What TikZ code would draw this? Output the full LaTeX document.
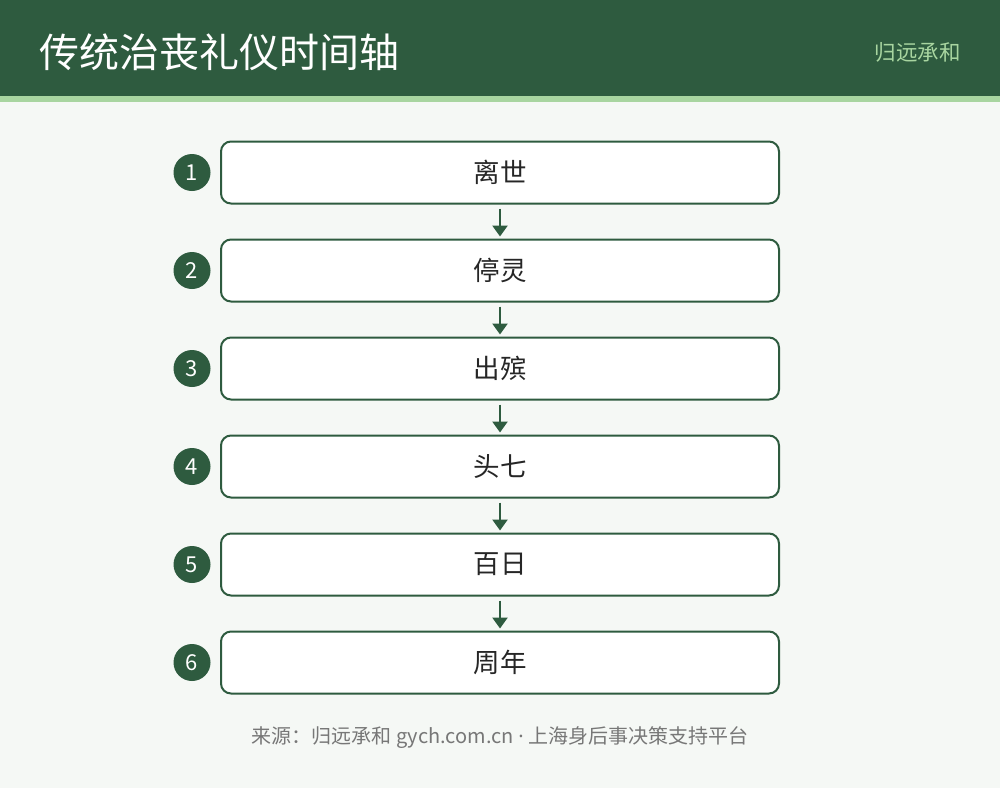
\documentclass[tikz,border=0pt]{standalone}
\usepackage{fontspec}
\setmainfont{Noto Sans CJK SC}
\newfontfamily\latinfont{Noto Sans}
\usetikzlibrary{arrows.meta}
\definecolor{darkgreen}{HTML}{2E5B3F}
\definecolor{lightgreen}{HTML}{A8D5A0}
\definecolor{bgcol}{HTML}{F5F8F5}
\definecolor{footgray}{HTML}{777777}
\tikzset{
  stepbox/.style={draw=darkgreen, line width=2pt, fill=white, rounded corners=10pt, minimum width=558pt, minimum height=62pt, inner sep=0pt, font=\fontsize{26.5}{30}\selectfont, text=black!85},
  numdot/.style={circle, fill=darkgreen, minimum size=37pt, inner sep=0pt, text=white, font=\fontsize{22}{26}\selectfont},
  flow/.style={draw=darkgreen, line width=2.5pt, -{Triangle[length=11pt,width=15pt]}, shorten >=2pt, shorten <=4pt}
}
\begin{document}
\begin{tikzpicture}[x=1pt,y=-1pt]
\useasboundingbox (0,0) rectangle (1000,788);
\fill[bgcol] (0,0) rectangle (1000,788);
\fill[darkgreen] (0,0) rectangle (1000,96);
\fill[lightgreen] (0,96) rectangle (1000,102);
\node[anchor=west, text=white, font=\fontsize{40}{48}\selectfont, inner sep=0pt] (title) at (39,52) {传统治丧礼仪时间轴};
\node[anchor=east, text=lightgreen, font=\fontsize{21.5}{26}\selectfont, inner sep=0pt] (brand) at (961,52) {归远承和};
\foreach \i/\t in {1/离世,2/停灵,3/出殡,4/头七,5/百日,6/周年}{
  \node[stepbox] (b\i) at (500,{172.5+98*(\i-1)}) {\t};
  \node[numdot] (n\i) at (192,{172.5+98*(\i-1)}) {\i};
}
\foreach \i [evaluate=\i as \j using int(\i+1)] in {1,...,5}{
  \draw[flow] (b\i.south) -- (b\j.north);
}
\node[text=footgray, font=\fontsize{20}{24}\selectfont, inner sep=0pt] (foot) at (500,738) {来源：归远承和 gych.com.cn {\latinfont ·} 上海身后事决策支持平台};
\end{tikzpicture}
\end{document}
